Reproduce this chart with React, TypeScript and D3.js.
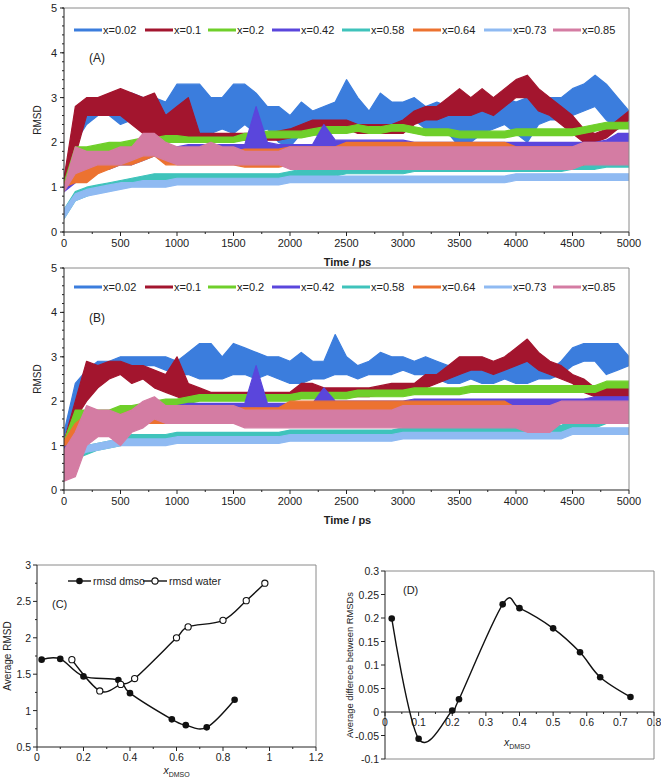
import React from 'react';
import * as d3 from 'd3';

const FONT = '"Liberation Sans", Arial, sans-serif';

// ---------- Panels A / B : RMSD vs time ----------
const SERIES_LABELS = ['x=0.02', 'x=0.1', 'x=0.2', 'x=0.42', 'x=0.58', 'x=0.64', 'x=0.73', 'x=0.85'];
const SERIES_COLORS = ['#3b7ddd', '#a3152e', '#6fcf2a', '#5a46dc', '#3fc3bb', '#ec7230', '#8fbaf2', '#d47ca3'];
const TIME_PS = d3.range(0, 5001, 100);
const TIME_TICKS = [0, 500, 1000, 1500, 2000, 2500, 3000, 3500, 4000, 4500, 5000];
const RMSD_TICKS = [0, 1, 2, 3, 4, 5];

// Panel A (lower / upper envelope of each noisy trace, every 100 ps)
const A_002_LO = [1.0,2.0,2.4,2.6,2.6,2.4,2.5,2.6,2.6,2.5, 2.5,2.2,2.2,2.2,2.3,2.2,2.4,2.2,2.3,2.0, 1.9,2.2,2.2,2.1,2.3,2.4,2.3,2.2,2.3,2.3, 2.4,2.5,2.3,2.3,2.2,1.9,2.0,2.2,2.3,2.4, 2.2,2.0,2.4,2.5,2.5,2.6,2.7,2.8,2.5,2.3, 2.4];
const A_002_HI = [1.2,2.4,2.8,3.0,3.0,3.1,3.1,3.0,3.0,2.9, 3.3,3.3,3.3,3.0,3.0,3.3,3.3,3.1,2.8,2.8, 2.6,2.9,2.7,2.8,2.9,3.4,3.0,2.7,3.1,2.9, 2.9,3.0,2.8,2.9,2.8,2.8,2.8,2.8,2.9,3.0, 2.9,3.0,2.9,3.0,3.0,3.2,3.3,3.5,3.3,3.0, 2.7];
const A_01_LO = [1.0,1.7,2.6,2.6,2.6,2.6,2.4,2.2,2.1,2.0, 2.0,2.0,2.05,2.05,2.05,2.05,2.05,2.05,2.05,2.05, 2.1,2.2,2.3,2.3,2.3,2.3,2.2,2.2,2.2,2.2, 2.2,2.4,2.5,2.5,2.6,2.6,2.6,2.7,2.6,2.8, 3.0,3.0,2.7,2.6,2.4,2.2,2.0,2.0,2.1,2.3, 2.5];
const A_01_HI = [1.2,2.8,3.0,3.0,3.1,3.2,3.1,3.0,3.1,2.6, 2.8,3.0,2.2,2.2,2.2,2.2,2.2,2.2,2.2,2.25, 2.3,2.4,2.5,2.5,2.5,2.5,2.4,2.4,2.4,2.4, 2.5,2.7,2.8,2.8,3.0,3.2,3.0,3.2,3.0,3.2, 3.4,3.5,3.2,3.0,2.8,2.6,2.3,2.2,2.3,2.5, 2.7];
const A_02_LO = [1.0,1.5,1.7,1.8,1.8,1.85,1.9,1.95,1.95,2.0, 2.0,2.0,2.0,2.0,2.0,2.0,2.05,2.05,2.1,2.1, 2.1,2.1,2.15,2.2,2.2,2.2,2.25,2.2,2.2,2.25, 2.25,2.2,2.15,2.15,2.15,2.1,2.1,2.1,2.1,2.1, 2.15,2.15,2.15,2.15,2.15,2.15,2.2,2.25,2.3,2.3, 2.3];
const A_02_HI = [1.1,1.9,1.9,1.95,2.0,2.0,2.05,2.1,2.1,2.15, 2.15,2.12,2.12,2.12,2.12,2.12,2.2,2.2,2.25,2.25, 2.25,2.25,2.3,2.35,2.35,2.35,2.4,2.35,2.35,2.4, 2.4,2.35,2.3,2.3,2.3,2.25,2.25,2.25,2.25,2.25, 2.3,2.3,2.3,2.3,2.3,2.3,2.35,2.4,2.45,2.45, 2.45];
const A_042_LO = [0.9,1.1,1.3,1.4,1.4,1.5,1.5,1.6,1.7,1.75, 1.75,1.8,1.8,1.8,1.8,1.8,1.8,1.85,1.85,1.8, 1.8,1.8,1.8,1.9,1.9,1.9,1.9,1.9,1.9,1.9, 1.9,1.85,1.85,1.85,1.85,1.85,1.85,1.85,1.85,1.85, 1.85,1.85,1.85,1.85,1.85,1.85,1.85,1.85,1.9,2.0, 2.0];
const A_042_HI = [1.0,1.4,1.6,1.6,1.65,1.7,1.7,1.85,1.9,1.9, 1.9,1.95,1.95,1.95,1.95,1.95,1.95,2.8,2.0,1.95, 1.95,1.95,1.95,2.4,2.05,2.05,2.05,2.05,2.05,2.05, 2.05,2.0,2.0,2.0,2.0,2.0,2.0,2.0,2.0,2.0, 2.0,2.0,2.0,2.0,2.0,2.0,2.0,2.0,2.05,2.2, 2.2];
const A_058_LO = [0.3,0.7,0.8,0.9,0.95,1.0,1.05,1.1,1.1,1.15, 1.15,1.15,1.15,1.15,1.15,1.15,1.15,1.15,1.15,1.15, 1.2,1.25,1.25,1.25,1.25,1.3,1.3,1.3,1.3,1.3, 1.3,1.35,1.35,1.35,1.35,1.35,1.35,1.35,1.35,1.35, 1.35,1.35,1.35,1.35,1.35,1.4,1.4,1.4,1.45,1.45, 1.45];
const A_058_HI = [0.5,0.9,1.0,1.05,1.1,1.15,1.2,1.25,1.3,1.3, 1.3,1.3,1.3,1.3,1.3,1.3,1.3,1.3,1.3,1.3, 1.35,1.4,1.4,1.4,1.4,1.45,1.45,1.45,1.45,1.45, 1.45,1.5,1.5,1.5,1.5,1.5,1.5,1.5,1.5,1.5, 1.5,1.5,1.5,1.5,1.5,1.55,1.55,1.55,1.6,1.6, 1.6];
const A_064_LO = [1.0,1.1,1.1,1.3,1.4,1.5,1.5,1.6,1.7,1.5, 1.5,1.5,1.5,1.5,1.5,1.5,1.45,1.45,1.45,1.45, 1.5,1.5,1.5,1.5,1.5,1.6,1.6,1.6,1.6,1.6, 1.6,1.55,1.55,1.55,1.55,1.55,1.55,1.55,1.55,1.55, 1.5,1.5,1.5,1.5,1.5,1.5,1.5,1.6,1.6,1.6, 1.6];
const A_064_HI = [1.1,1.4,1.5,1.6,1.8,1.8,1.9,1.9,2.0,1.9, 1.8,1.8,1.8,1.8,1.8,1.8,1.85,1.85,1.85,1.85, 1.9,1.9,1.9,1.9,1.9,2.0,2.0,2.0,2.0,2.0, 2.0,2.0,2.0,2.0,2.0,2.0,2.0,2.0,2.0,2.0, 1.9,1.9,1.9,1.9,1.9,1.9,1.75,1.8,1.8,1.8, 1.8];
const A_073_LO = [0.3,0.7,0.8,0.85,0.9,0.95,1.0,1.0,1.0,1.0, 1.05,1.05,1.05,1.05,1.05,1.05,1.05,1.05,1.05,1.05, 1.1,1.1,1.1,1.1,1.1,1.1,1.1,1.1,1.1,1.1, 1.1,1.1,1.1,1.1,1.1,1.1,1.1,1.1,1.1,1.1, 1.15,1.15,1.15,1.15,1.15,1.15,1.15,1.15,1.15,1.15, 1.15];
const A_073_HI = [0.5,0.85,0.95,1.0,1.05,1.1,1.1,1.15,1.15,1.15, 1.2,1.2,1.2,1.2,1.2,1.2,1.2,1.2,1.2,1.2, 1.25,1.25,1.25,1.25,1.25,1.25,1.25,1.25,1.25,1.25, 1.25,1.25,1.25,1.25,1.25,1.25,1.25,1.25,1.25,1.25, 1.3,1.3,1.3,1.3,1.3,1.3,1.3,1.3,1.3,1.3, 1.3];
const A_085_LO = [0.9,1.3,1.4,1.5,1.5,1.5,1.6,1.7,1.7,1.6, 1.5,1.5,1.5,1.5,1.5,1.5,1.5,1.5,1.5,1.5, 1.4,1.4,1.4,1.4,1.4,1.4,1.4,1.4,1.4,1.4, 1.4,1.4,1.4,1.4,1.4,1.4,1.4,1.4,1.4,1.4, 1.4,1.4,1.4,1.4,1.4,1.4,1.5,1.5,1.5,1.5, 1.5];
const A_085_HI = [1.0,1.9,1.8,1.8,1.8,1.9,1.9,2.2,2.2,2.0, 1.9,1.9,1.9,2.0,1.9,1.9,1.8,1.8,1.8,1.8, 1.9,1.9,1.9,1.9,1.9,1.9,1.9,1.9,1.9,1.9, 1.9,1.9,1.9,1.9,1.9,1.9,1.9,1.9,1.9,1.9, 1.9,1.9,1.9,1.9,1.9,1.9,2.0,2.0,2.0,2.0, 2.0];

// Panel B
const B_002_LO = [1.2,2.0,2.4,2.6,2.7,2.7,2.8,2.8,2.8,2.7, 2.6,2.6,2.5,2.5,2.5,2.6,2.6,2.5,2.6,2.5, 2.4,2.4,2.5,2.5,2.6,2.6,2.5,2.6,2.6,2.6, 2.7,2.6,2.6,2.5,2.4,2.4,2.5,2.4,2.4,2.5, 2.4,2.4,2.5,2.5,2.6,2.8,2.9,2.9,2.6,2.7, 2.8];
const B_002_HI = [1.3,2.4,2.7,2.9,2.9,3.0,3.0,3.0,3.0,3.0, 2.9,3.1,3.3,3.3,3.0,3.3,3.2,3.1,3.0,3.0, 2.9,3.1,2.9,2.9,3.5,3.0,2.8,2.9,3.1,3.0, 3.0,2.9,3.0,2.9,2.8,2.9,2.9,2.8,2.8,2.9, 2.8,3.0,2.8,2.7,2.9,3.2,3.3,3.3,3.3,3.3, 3.0];
const B_01_LO = [1.0,1.6,2.0,2.3,2.5,2.6,2.4,2.5,2.3,2.2, 2.1,2.0,2.1,2.05,2.05,2.05,2.05,2.05,2.05,2.05, 2.05,2.1,2.2,2.1,2.1,2.1,2.1,2.1,2.15,2.2, 2.2,2.2,2.3,2.4,2.5,2.6,2.7,2.7,2.6,2.7, 2.8,2.9,2.7,2.6,2.5,2.4,2.2,2.1,2.1,2.1, 2.1];
const B_01_HI = [1.1,2.0,2.9,2.8,2.9,2.9,2.8,2.8,2.7,2.6, 3.0,2.4,2.3,2.2,2.2,2.2,2.2,2.2,2.2,2.2, 2.2,2.4,2.4,2.3,2.3,2.3,2.3,2.3,2.35,2.4, 2.4,2.4,2.6,2.6,2.8,3.0,3.0,3.0,2.9,3.0, 3.2,3.4,3.1,2.9,2.8,2.6,2.5,2.3,2.3,2.3, 2.3];
const B_02_LO = [1.0,1.4,1.5,1.6,1.6,1.7,1.7,1.8,1.8,1.9, 1.9,1.95,2.0,2.0,2.0,2.0,2.0,2.0,2.0,2.0, 2.0,2.05,2.05,2.05,2.05,2.05,2.1,2.1,2.1,2.1, 2.1,2.15,2.15,2.15,2.15,2.15,2.2,2.2,2.2,2.2, 2.2,2.2,2.2,2.2,2.2,2.2,2.2,2.2,2.3,2.3, 2.3];
const B_02_HI = [1.1,1.8,1.8,1.8,1.8,1.9,1.9,1.95,2.0,2.05, 2.05,2.1,2.15,2.15,2.15,2.15,2.15,2.15,2.15,2.15, 2.15,2.2,2.2,2.2,2.2,2.2,2.25,2.25,2.25,2.25, 2.25,2.3,2.3,2.3,2.3,2.3,2.35,2.35,2.35,2.35, 2.35,2.35,2.35,2.35,2.35,2.35,2.35,2.35,2.45,2.45, 2.45];
const B_042_LO = [0.9,1.0,1.4,1.4,1.4,1.4,1.4,1.5,1.6,1.7, 1.75,1.8,1.8,1.8,1.8,1.8,1.8,1.85,1.8,1.8, 1.8,1.8,1.8,1.85,1.85,1.85,1.85,1.85,1.85,1.85, 1.85,1.9,1.9,1.9,1.9,1.9,1.9,1.9,1.9,1.9, 1.9,1.9,1.9,1.9,1.9,1.9,1.9,1.9,1.9,1.9, 1.9];
const B_042_HI = [1.0,1.3,1.7,1.7,1.7,1.7,1.7,1.75,1.8,1.85, 1.9,1.95,1.95,1.95,1.95,1.95,1.95,2.8,1.95,1.95, 1.95,1.95,1.95,2.3,2.0,2.0,2.0,2.0,2.0,2.0, 2.0,2.05,2.05,2.05,2.05,2.05,2.05,2.05,2.05,2.05, 2.05,2.05,2.05,2.05,2.05,2.05,2.05,2.1,2.1,2.1, 2.1];
const B_058_LO = [0.3,0.7,0.8,0.9,0.95,1.0,1.05,1.05,1.05,1.05, 1.1,1.1,1.1,1.1,1.1,1.1,1.1,1.1,1.1,1.1, 1.15,1.15,1.15,1.15,1.15,1.15,1.15,1.15,1.15,1.15, 1.25,1.25,1.25,1.25,1.25,1.25,1.25,1.25,1.25,1.25, 1.3,1.3,1.3,1.3,1.3,1.4,1.4,1.4,1.5,1.5, 1.5];
const B_058_HI = [0.5,0.9,1.0,1.05,1.1,1.15,1.25,1.25,1.25,1.25, 1.3,1.3,1.3,1.3,1.3,1.3,1.3,1.3,1.3,1.3, 1.35,1.35,1.35,1.35,1.35,1.35,1.35,1.35,1.35,1.35, 1.4,1.4,1.4,1.4,1.4,1.4,1.4,1.4,1.4,1.4, 1.45,1.45,1.45,1.45,1.45,1.6,1.6,1.6,1.65,1.65, 1.65];
const B_064_LO = [1.0,1.1,1.4,1.4,1.4,1.4,1.5,1.5,1.5,1.5, 1.5,1.5,1.5,1.5,1.5,1.5,1.5,1.5,1.5,1.5, 1.6,1.6,1.6,1.6,1.6,1.6,1.6,1.6,1.6,1.6, 1.6,1.6,1.6,1.6,1.6,1.6,1.6,1.6,1.6,1.6, 1.5,1.5,1.5,1.5,1.5,1.5,1.6,1.6,1.6,1.6, 1.6];
const B_064_HI = [1.1,1.5,1.7,1.7,1.7,1.7,1.8,1.85,1.85,1.85, 1.85,1.85,1.85,1.85,1.85,1.85,1.85,1.85,1.85,1.85, 2.0,2.0,2.0,2.0,2.0,2.0,2.0,2.0,2.0,2.0, 2.0,2.0,2.0,2.0,2.0,2.0,2.0,2.0,2.0,2.0, 1.85,1.85,1.85,1.85,1.85,1.85,1.8,1.8,1.8,1.8, 1.8];
const B_073_LO = [0.2,0.75,0.85,0.9,0.95,1.0,1.0,1.0,1.0,1.0, 1.05,1.05,1.05,1.05,1.05,1.05,1.05,1.05,1.05,1.05, 1.1,1.1,1.1,1.1,1.1,1.1,1.1,1.1,1.1,1.1, 1.15,1.15,1.15,1.15,1.15,1.15,1.15,1.15,1.15,1.15, 1.15,1.15,1.15,1.15,1.15,1.25,1.25,1.25,1.25,1.25, 1.25];
const B_073_HI = [0.4,0.95,1.0,1.05,1.1,1.15,1.15,1.15,1.15,1.15, 1.2,1.2,1.2,1.2,1.2,1.2,1.2,1.2,1.2,1.2, 1.25,1.25,1.25,1.25,1.25,1.25,1.25,1.25,1.25,1.25, 1.3,1.3,1.3,1.3,1.3,1.3,1.3,1.3,1.3,1.3, 1.3,1.3,1.3,1.3,1.3,1.4,1.4,1.4,1.4,1.4, 1.4];
const B_085_LO = [0.2,0.3,1.0,1.2,1.2,1.0,1.3,1.4,1.6,1.5, 1.5,1.5,1.5,1.5,1.5,1.5,1.4,1.4,1.4,1.4, 1.4,1.4,1.4,1.4,1.4,1.4,1.4,1.4,1.4,1.4, 1.4,1.4,1.4,1.4,1.4,1.4,1.4,1.4,1.4,1.4, 1.4,1.3,1.3,1.3,1.5,1.5,1.5,1.5,1.5,1.5, 1.5];
const B_085_HI = [0.9,1.3,1.9,1.8,1.8,1.7,1.8,2.0,2.1,1.9, 1.9,1.9,1.9,1.9,1.9,1.9,1.8,1.8,1.8,1.8, 1.8,1.8,1.8,1.8,1.8,1.8,1.8,1.8,1.8,1.8, 1.9,1.9,1.9,1.9,1.9,1.9,1.9,1.9,1.9,1.9, 1.9,1.9,1.9,1.9,2.0,2.0,2.0,2.0,2.0,2.0, 2.0];

const A_LO = [A_002_LO, A_01_LO, A_02_LO, A_042_LO, A_058_LO, A_064_LO, A_073_LO, A_085_LO];
const A_HI = [A_002_HI, A_01_HI, A_02_HI, A_042_HI, A_058_HI, A_064_HI, A_073_HI, A_085_HI];
const B_LO = [B_002_LO, B_01_LO, B_02_LO, B_042_LO, B_058_LO, B_064_LO, B_073_LO, B_085_LO];
const B_HI = [B_002_HI, B_01_HI, B_02_HI, B_042_HI, B_058_HI, B_064_HI, B_073_HI, B_085_HI];

// ---------- Panel C ----------
const C_DMSO_X = [0.02, 0.1, 0.2, 0.35, 0.4, 0.58, 0.64, 0.73, 0.85];
const C_DMSO_Y = [1.70, 1.71, 1.47, 1.42, 1.24, 0.88, 0.80, 0.77, 1.15];
const C_WATER_X = [0.15, 0.27, 0.36, 0.42, 0.6, 0.65, 0.8, 0.9, 0.98];
const C_WATER_Y = [1.70, 1.27, 1.36, 1.44, 2.00, 2.15, 2.24, 2.51, 2.75];
const C_X_TICKS = [0, 0.2, 0.4, 0.6, 0.8, 1, 1.2];
const C_Y_TICKS = [0.5, 1, 1.5, 2, 2.5, 3];

// ---------- Panel D ----------
const D_X = [0.02, 0.1, 0.2, 0.22, 0.35, 0.4, 0.5, 0.58, 0.64, 0.73];
const D_Y = [0.199, -0.057, 0.003, 0.027, 0.229, 0.221, 0.178, 0.127, 0.074, 0.032];
const D_X_TICKS = [0, 0.1, 0.2, 0.3, 0.4, 0.5, 0.6, 0.7, 0.8];
const D_Y_TICKS = [-0.1, -0.05, 0, 0.05, 0.1, 0.15, 0.2, 0.25, 0.3];

const LEGEND_X = [74, 145, 208, 272, 342, 413, 484, 553];

type Box = { left: number; right: number; top: number; bottom: number };

function TimePanel({ box, los, his, tag, legendY, id }: { box: Box; los: number[][]; his: number[][]; tag: string; legendY: number; id: string }) {
  const x = d3.scaleLinear().domain([0, 5000]).range([box.left, box.right]);
  const y = d3.scaleLinear().domain([0, 5]).range([box.bottom, box.top]);
  const area = (lo: number[], hi: number[]) =>
    d3.area<number>()
      .x((t) => x(t))
      .y0((_, i) => y(lo[i]))
      .y1((_, i) => y(hi[i]))(TIME_PS) as string;
  const minorY = d3.range(0, 5.001, 0.2);
  const minorX = d3.range(250, 5000, 500);
  return (
    <g>
      <defs>
        <clipPath id={id}>
          <rect x={box.left} y={box.top} width={box.right - box.left} height={box.bottom - box.top} />
        </clipPath>
      </defs>
      <g clipPath={`url(#${id})`}>
        {los.map((lo, k) => (
          <path key={k} d={area(lo, his[k])} fill={SERIES_COLORS[k]} stroke={SERIES_COLORS[k]} strokeWidth={1.2} strokeLinejoin="round" />
        ))}
      </g>
      {/* frame */}
      <line x1={box.left} x2={box.right} y1={box.top} y2={box.top} stroke="#8a8a8a" strokeWidth={1} />
      <line x1={box.right} x2={box.right} y1={box.top} y2={box.bottom} stroke="#8a8a8a" strokeWidth={1} />
      <line x1={box.left} x2={box.left} y1={box.top} y2={box.bottom} stroke="#222" strokeWidth={1} />
      <line x1={box.left} x2={box.right} y1={box.bottom} y2={box.bottom} stroke="#222" strokeWidth={1} />
      {minorY.map((v, i) => (
        <line key={'my' + i} x1={box.left - 2} x2={box.left} y1={y(v)} y2={y(v)} stroke="#222" />
      ))}
      {RMSD_TICKS.map((v) => (
        <g key={'y' + v}>
          <line x1={box.left - 4} x2={box.left} y1={y(v)} y2={y(v)} stroke="#222" />
          <text x={box.left - 7} y={y(v) + 4} textAnchor="end" fontSize={11} fontFamily={FONT} fill="#222">{v}</text>
        </g>
      ))}
      {minorX.map((v) => (
        <line key={'mx' + v} x1={x(v)} x2={x(v)} y1={box.bottom} y2={box.bottom + 2} stroke="#222" />
      ))}
      {TIME_TICKS.map((v) => (
        <g key={'x' + v}>
          <line x1={x(v)} x2={x(v)} y1={box.bottom} y2={box.bottom + 4} stroke="#222" />
          <text x={x(v)} y={box.bottom + 15} textAnchor="middle" fontSize={11} fontFamily={FONT} fill="#222">{v}</text>
        </g>
      ))}
      <text x={(box.left + box.right) / 2 + 1} y={box.bottom + 34} textAnchor="middle" fontSize={11} fontWeight="bold" fontFamily={FONT} fill="#222">Time / ps</text>
      <text transform={`translate(${box.left - 23},${(box.top + box.bottom) / 2}) rotate(-90)`} textAnchor="middle" fontSize={10} fontFamily={FONT} fill="#222">RMSD</text>
      <text x={box.left + 25} y={box.top + 54} fontSize={12} fontFamily={FONT} fill="#222">{tag}</text>
      {SERIES_LABELS.map((s, k) => (
        <g key={'lg' + k}>
          <line x1={LEGEND_X[k]} x2={LEGEND_X[k] + 28} y1={legendY} y2={legendY} stroke={SERIES_COLORS[k]} strokeWidth={3} />
          <text x={LEGEND_X[k] + 29} y={legendY + 4} fontSize={11} fontFamily={FONT} fill="#222">{s}</text>
        </g>
      ))}
    </g>
  );
}

function PanelC() {
  const box = { left: 37, right: 316, top: 565, bottom: 747 };
  const x = d3.scaleLinear().domain([0, 1.2]).range([box.left, box.right]);
  const y = d3.scaleLinear().domain([0.5, 3]).range([box.bottom, box.top]);
  const line = d3.line<number>().curve(d3.curveCatmullRom.alpha(0));
  const dmso = line(C_DMSO_X.map((v, i) => [x(v), y(C_DMSO_Y[i])]) as any) as string;
  const water = line(C_WATER_X.map((v, i) => [x(v), y(C_WATER_Y[i])]) as any) as string;
  return (
    <g>
      <line x1={box.left} x2={box.right} y1={box.top} y2={box.top} stroke="#8a8a8a" />
      <line x1={box.right} x2={box.right} y1={box.top} y2={box.bottom} stroke="#8a8a8a" />
      <line x1={box.left} x2={box.left} y1={box.top} y2={box.bottom} stroke="#222" />
      <line x1={box.left} x2={box.right} y1={box.bottom} y2={box.bottom} stroke="#222" />
      {d3.range(0.75, 3, 0.5).map((v, i) => (
        <line key={'my' + i} x1={box.left - 2} x2={box.left} y1={y(v)} y2={y(v)} stroke="#222" />
      ))}
      {C_Y_TICKS.map((v) => (
        <g key={'y' + v}>
          <line x1={box.left - 4} x2={box.left} y1={y(v)} y2={y(v)} stroke="#222" />
          <text x={box.left - 6} y={y(v) + 4} textAnchor="end" fontSize={10.5} fontFamily={FONT} fill="#222">{v}</text>
        </g>
      ))}
      {d3.range(0.1, 1.2, 0.2).map((v, i) => (
        <line key={'mx' + i} x1={x(v)} x2={x(v)} y1={box.bottom} y2={box.bottom + 2} stroke="#222" />
      ))}
      {C_X_TICKS.map((v) => (
        <g key={'x' + v}>
          <line x1={x(v)} x2={x(v)} y1={box.bottom} y2={box.bottom + 4} stroke="#222" />
          <text x={x(v)} y={box.bottom + 14} textAnchor="middle" fontSize={10.5} fontFamily={FONT} fill="#222">{v}</text>
        </g>
      ))}
      <path d={dmso} fill="none" stroke="#111" strokeWidth={1.4} />
      <path d={water} fill="none" stroke="#111" strokeWidth={1.4} />
      {C_DMSO_X.map((v, i) => (
        <circle key={'d' + i} cx={x(v)} cy={y(C_DMSO_Y[i])} r={3.3} fill="#111" />
      ))}
      {C_WATER_X.map((v, i) => (
        <circle key={'w' + i} cx={x(v)} cy={y(C_WATER_Y[i])} r={3.1} fill="#fff" stroke="#111" strokeWidth={1.1} />
      ))}
      {/* legend */}
      <line x1={68} x2={91} y1={581} y2={581} stroke="#111" strokeWidth={1.4} />
      <circle cx={79.5} cy={581} r={3.3} fill="#111" />
      <text x={93} y={585} fontSize={10.5} fontFamily={FONT} fill="#222">rmsd dmso</text>
      <line x1={143} x2={167} y1={581} y2={581} stroke="#111" strokeWidth={1.4} />
      <circle cx={155} cy={581} r={3.1} fill="#fff" stroke="#111" strokeWidth={1.1} />
      <text x={169} y={585} fontSize={10.5} fontFamily={FONT} fill="#222">rmsd water</text>
      <text x={52} y={608} fontSize={11} fontFamily={FONT} fill="#222">(C)</text>
      <text transform={`translate(11,${(box.top + box.bottom) / 2}) rotate(-90)`} textAnchor="middle" fontSize={10} fontFamily={FONT} fill="#222">Average RMSD</text>
      <text x={(box.left + box.right) / 2} y={box.bottom + 27} textAnchor="middle" fontSize={10.5} fontFamily={FONT} fill="#222">
        <tspan fontStyle="italic">x</tspan><tspan fontSize={7} dy={3}>DMSO</tspan>
      </text>
    </g>
  );
}

function PanelD() {
  const box = { left: 385, right: 654, top: 571, bottom: 759 };
  const x = d3.scaleLinear().domain([0, 0.8]).range([box.left, box.right]);
  const y = d3.scaleLinear().domain([-0.1, 0.3]).range([box.bottom, box.top]);
  const line = d3.line<number>().curve(d3.curveCatmullRom.alpha(0));
  const path = line(D_X.map((v, i) => [x(v), y(D_Y[i])]) as any) as string;
  const y0 = y(0);
  return (
    <g>
      <line x1={box.left} x2={box.right} y1={box.top} y2={box.top} stroke="#8a8a8a" />
      <line x1={box.right} x2={box.right} y1={box.top} y2={box.bottom} stroke="#8a8a8a" />
      <line x1={box.left} x2={box.right} y1={box.bottom} y2={box.bottom} stroke="#8a8a8a" />
      <line x1={box.left} x2={box.left} y1={box.top} y2={box.bottom} stroke="#222" />
      <line x1={box.left} x2={box.right} y1={y0} y2={y0} stroke="#222" />
      {D_Y_TICKS.map((v) => (
        <g key={'y' + v}>
          <line x1={box.left - 4} x2={box.left} y1={y(v)} y2={y(v)} stroke="#222" />
          <text x={box.left - 6} y={y(v) + 4} textAnchor="end" fontSize={10.5} fontFamily={FONT} fill="#222">{v}</text>
        </g>
      ))}
      {d3.range(0.05, 0.8, 0.1).map((v, i) => (
        <line key={'mx' + i} x1={x(v)} x2={x(v)} y1={y0} y2={y0 + 2} stroke="#222" />
      ))}
      {D_X_TICKS.map((v) => (
        <g key={'x' + v}>
          <line x1={x(v)} x2={x(v)} y1={y0} y2={y0 + 4} stroke="#222" />
          <text x={x(v)} y={y0 + 14} textAnchor="middle" fontSize={10.5} fontFamily={FONT} fill="#222">{v}</text>
        </g>
      ))}
      <path d={path} fill="none" stroke="#111" strokeWidth={1.4} />
      {D_X.map((v, i) => (
        <circle key={'p' + i} cx={x(v)} cy={y(D_Y[i])} r={3.3} fill="#111" />
      ))}
      <text x={403} y={594} fontSize={11} fontFamily={FONT} fill="#222">(D)</text>
      <text transform={`translate(353,${(box.top + box.bottom) / 2}) rotate(-90)`} textAnchor="middle" fontSize={9.5} fontFamily={FONT} fill="#222" textLength={146} lengthAdjust="spacingAndGlyphs">Average differece between RMSDs</text>
      <text x={517} y={y0 + 34} textAnchor="middle" fontSize={10.5} fontFamily={FONT} fill="#222">
        <tspan fontStyle="italic">x</tspan><tspan fontSize={7} dy={3}>DMSO</tspan>
      </text>
    </g>
  );
}

export default function App() {
  return (
    <svg width={661} height={778} viewBox="0 0 661 778" style={{ position: 'absolute', left: 0, top: 0, background: '#fff' }}>
      <rect width={661} height={778} fill="#fff" />
      <TimePanel box={{ left: 64, right: 629, top: 8, bottom: 232 }} los={A_LO} his={A_HI} tag="(A)" legendY={30} id="clipA" />
      <TimePanel box={{ left: 64, right: 629, top: 268, bottom: 490 }} los={B_LO} his={B_HI} tag="(B)" legendY={287} id="clipB" />
      <PanelC />
      <PanelD />
    </svg>
  );
}
